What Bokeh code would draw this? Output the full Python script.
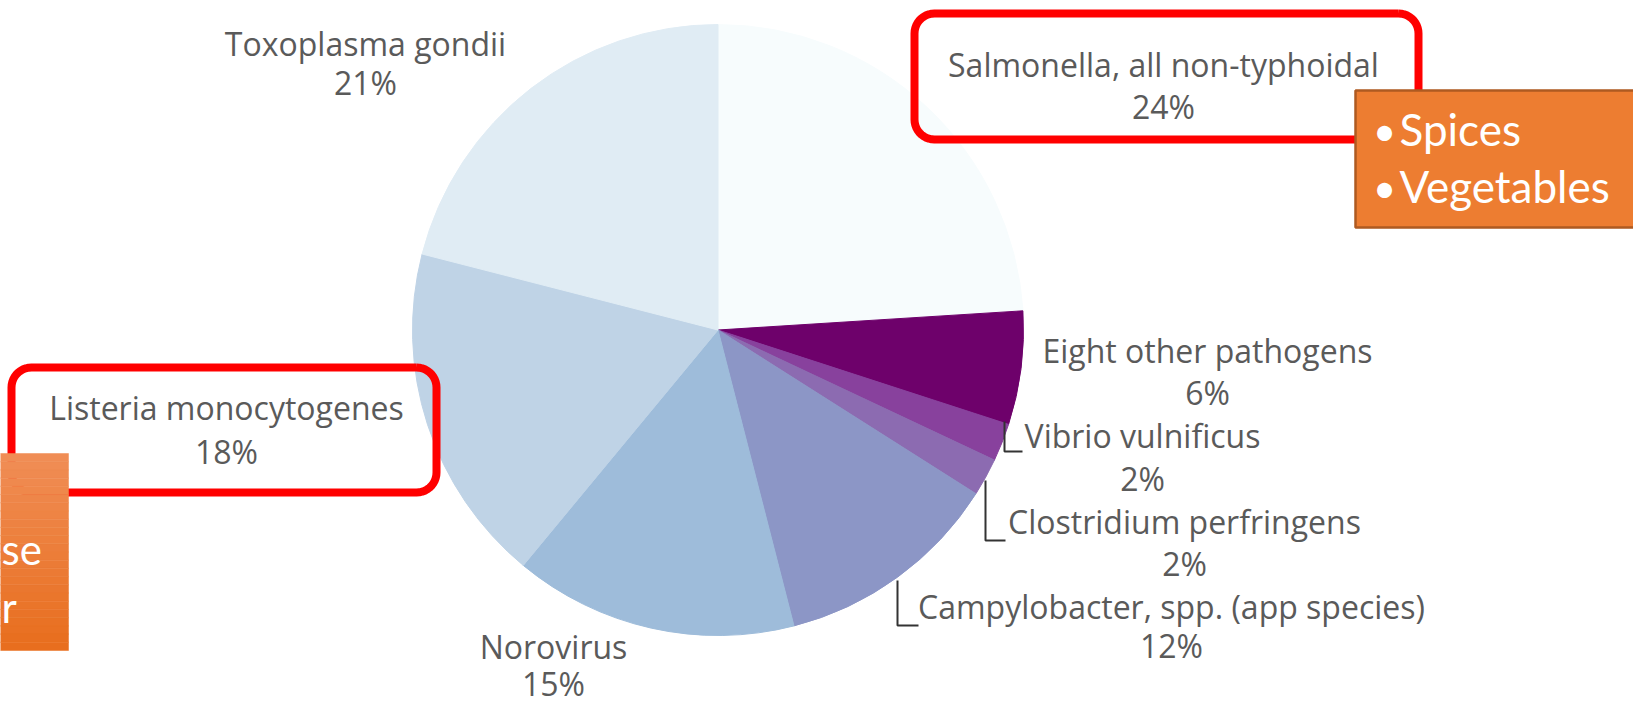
import numpy as np
from bokeh.plotting import figure
from bokeh.models import Range1d, ColumnDataSource
from bokeh.core.properties import value
from bokeh.embed import file_html
from bokeh.resources import INLINE

# ---------------- data ----------------
pathogens = ["Salmonella, all non-typhoidal", "Eight other pathogens", "Vibrio vulnificus",
             "Clostridium perfringens", "Campylobacter, spp. (app species)", "Norovirus",
             "Listeria monocytogenes", "Toxoplasma gondii"]
shares = [24, 6, 2, 2, 12, 15, 18, 21]
slice_colors = ["#f7fcfd", "#6e016b", "#88419d", "#8c6bb1", "#8c96c6", "#9ebcda", "#bfd3e6", "#e0ecf4"]

right_note = ["Spices", "Vegetables"]
left_note = ["se", "r"]

# ---------------- layout (page pixel coordinates, y downwards) ----------------
W, H = 1633, 709
def Y(py):
    return 709 - py

CX, CY, R = 717.5, 329.5, 305.5
# label centres: (x, name_y, pct_y)
label_pos = [(1163, 64, 106), (1207, 350, 392), (1142, 435, 478), (1184, 521, 563),
             (1171, 606, 645), (553, 646, 683), (226, 407, 451), (365, 43, 82)]

p = figure(width=W, height=H, output_backend="svg", toolbar_location=None,
           x_range=Range1d(0, W), y_range=Range1d(0, H),
           min_border=0, outline_line_color=None, background_fill_color="white",
           border_fill_color="white")
p.axis.visible = False
p.grid.visible = False

vals = np.array(shares, dtype=float)
frac = vals / vals.sum()
cum = np.concatenate([[0], np.cumsum(frac)])
start = np.pi / 2 - 2 * np.pi * cum[1:]
end = np.pi / 2 - 2 * np.pi * cum[:-1]
src = ColumnDataSource(dict(name=pathogens, share=shares, start=start, end=end, color=slice_colors))
p.wedge(x=CX, y=Y(CY), radius=R, start_angle="start", end_angle="end",
        fill_color="color", line_color="color", line_width=1, source=src)

# labels
lx = [q[0] for q in label_pos]
ny = [Y(q[1]) for q in label_pos]
py_ = [Y(q[2]) for q in label_pos]
pct = [f"{v}%" for v in shares]
for ys, txt in ((ny, pathogens), (py_, pct)):
    p.text(x=lx, y=ys, text=txt, text_align="center", text_baseline="middle",
           text_font=value("Open Sans"), text_font_size="32px", text_color="#5a5a5a")

# leader brackets
brackets = [[(1004, 421), (1004, 451), (1022, 451)],
            [(985, 480), (985, 540), (1005, 540)],
            [(897, 580), (897, 625), (918, 625)]]
p.multi_line(xs=[[a[0] for a in b] for b in brackets], ys=[[Y(a[1]) for a in b] for b in brackets],
             line_color="#333333", line_width=2)

# rounded red boxes
def rrect(x0, y0, x1, y1, r, n=12):
    xs, ys = [], []
    corners = [(x1 - r, y0 + r, -90, 0), (x1 - r, y1 - r, 0, 90),
               (x0 + r, y1 - r, 90, 180), (x0 + r, y0 + r, 180, 270)]
    for cx, cy, a0, a1 in corners:
        t = np.radians(np.linspace(a0, a1, n))
        xs += list(cx + r * np.cos(t))
        ys += list(cy + r * np.sin(t))
    xs.append(xs[0]); ys.append(ys[0])
    return xs, [Y(v) for v in ys]

for box in [(914, 13, 1418, 139), (11, 367, 436, 492)]:
    bx, by = rrect(*box, 20)
    p.line(bx, by, line_color="#ff0000", line_width=8, line_join="round")

# orange note boxes
p.quad(left=[1355], right=[1645], top=[Y(90)], bottom=[Y(227)],
       fill_color="#ed7d31", line_color="#ae5a21", line_width=2.5)
# left box with vertical gradient
nb = 24
tops = np.linspace(453, 650, nb + 1)
c0 = np.array([0xf0, 0x8d, 0x55]); c1 = np.array([0xe8, 0x6e, 0x1e])
band_cols = ["#%02x%02x%02x" % tuple(np.round(c0 + (c1 - c0) * i / (nb - 1)).astype(int)) for i in range(nb)]
p.quad(left=[-10] * nb, right=[68] * nb, top=[Y(t) for t in tops[:-1]], bottom=[Y(t) for t in tops[1:]],
       fill_color=band_cols, line_color=band_cols, line_width=0.5)

p.text(x=[1384, 1384], y=[Y(130), Y(187)], text=["•", "•"], text_align="center",
       text_baseline="middle", text_font=value("Lato"), text_font_size="40px", text_color="white")
p.text(x=[1399, 1399], y=[Y(128), Y(185)], text=right_note, text_align="left",
       text_baseline="middle", text_font=value("Lato"), text_font_size="44px", text_color="white")
p.text(x=[1, 1], y=[Y(548), Y(606)], text=left_note, text_align="left",
       text_baseline="middle", text_font=value("Lato"), text_font_size="42px", text_color="white")

open("out.html", "w").write(file_html(p, INLINE))
